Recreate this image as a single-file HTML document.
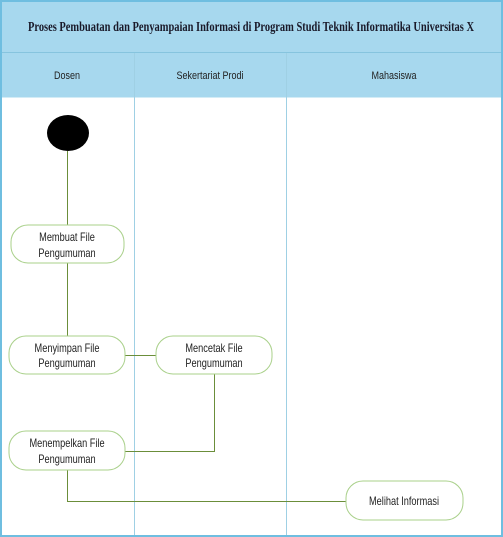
<!DOCTYPE html>
<html><head><style>html,body{margin:0;padding:0;background:#fff}svg{display:block}</style></head>
<body>
<svg width="503" height="537" viewBox="0 0 503 537" xmlns="http://www.w3.org/2000/svg" font-family="'Liberation Sans',sans-serif">
<rect x="0" y="0" width="503" height="537" fill="#fff"/>
<rect x="0.5" y="0.5" width="501.5" height="96" fill="#a7d8ee"/>
<line x1="0" y1="52.5" x2="503" y2="52.5" stroke="#86c4de"/>
<line x1="0" y1="97" x2="503" y2="97" stroke="#a7d8ee"/>
<line x1="134.5" y1="53" x2="134.5" y2="536" stroke="#9fd0e4"/>
<line x1="286.5" y1="53" x2="286.5" y2="536" stroke="#9fd0e4"/>
<rect x="1" y="1" width="501" height="535" fill="none" stroke="#6fbee0" stroke-width="2"/>
<text x="251" y="31" text-anchor="middle" font-family="'Liberation Serif',serif" font-weight="bold" font-size="14" textLength="446" lengthAdjust="spacingAndGlyphs" fill="#1a1a2a">Proses Pembuatan dan Penyampaian Informasi di Program Studi Teknik Informatika Universitas X</text>
<g font-size="11" fill="#222" text-anchor="middle">
<text transform="translate(67,79) scale(0.82,1)">Dosen</text>
<text transform="translate(210,79) scale(0.82,1)">Sekertariat Prodi</text>
<text transform="translate(394,79) scale(0.82,1)">Mahasiswa</text>
</g>
<g stroke="#6b8e3a" fill="none" stroke-width="1">
<line x1="67.5" y1="151" x2="67.5" y2="225"/>
<line x1="67.5" y1="263" x2="67.5" y2="336"/>
<line x1="125" y1="355.5" x2="156" y2="355.5"/>
<polyline points="214.5,374 214.5,451.5 125,451.5"/>
<polyline points="67.5,470 67.5,501.5 346,501.5"/>
</g>
<ellipse cx="68" cy="133" rx="21" ry="18" fill="#000"/>
<g fill="#fff" stroke="#a9d08a" stroke-width="1">
<rect x="11" y="225" width="113" height="38" rx="17"/>
<rect x="9" y="336" width="116" height="38" rx="17"/>
<rect x="156" y="336" width="116" height="38" rx="17"/>
<rect x="9" y="431" width="116" height="39" rx="17"/>
<rect x="346" y="481" width="117" height="39" rx="17"/>
</g>
<g font-size="11.5" fill="#222" text-anchor="middle">
<text transform="translate(67,241) scale(0.8,1)">Membuat File</text><text transform="translate(67,257) scale(0.8,1)">Pengumuman</text>
<text transform="translate(67,352) scale(0.8,1)">Menyimpan File</text><text transform="translate(67,367) scale(0.8,1)">Pengumuman</text>
<text transform="translate(214,352) scale(0.8,1)">Mencetak File</text><text transform="translate(214,367) scale(0.8,1)">Pengumuman</text>
<text transform="translate(67,447) scale(0.8,1)">Menempelkan File</text><text transform="translate(67,463) scale(0.8,1)">Pengumuman</text>
<text transform="translate(404,505) scale(0.8,1)">Melihat Informasi</text>
</g>
</svg>
</body></html>
